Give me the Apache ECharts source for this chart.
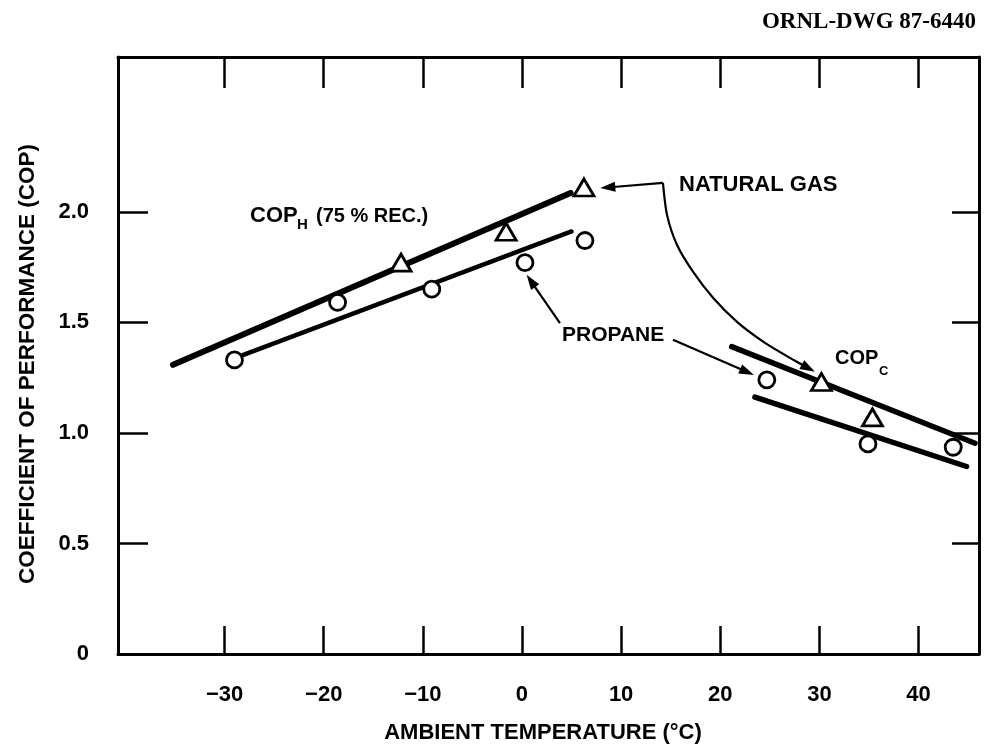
<!DOCTYPE html>
<html>
<head>
<meta charset="utf-8">
<script src="https://cdn.jsdelivr.net/npm/echarts@6/dist/echarts.min.js"></script>
<style>
  html, body { margin: 0; padding: 0; background: #fff; }
  #chart { width: 984px; height: 745px; }
</style>
</head>
<body>
<div id="chart"></div>
<script>
// Axis ticks and labels
const xTickValues = [-30, -20, -10, 0, 10, 20, 30, 40];
const yTickValues = [0.5, 1.0, 1.5, 2.0];
const yLabelValues = [0, 0.5, 1.0, 1.5, 2.0];

// Measured points: ambient temperature (°C) and COP
const gasHeatTemp = [-12.2, -1.6, 6.25];
const gasHeatCop = [1.77, 1.91, 2.11];
const propaneHeatTemp = [-29.0, -18.6, -9.1, 0.3, 6.35];
const propaneHeatCop = [1.33, 1.59, 1.65, 1.77, 1.87];
const gasCoolTemp = [30.2, 35.35];
const gasCoolCop = [1.23, 1.07];
const propaneCoolTemp = [24.7, 34.9, 43.5];
const propaneCoolCop = [1.24, 0.95, 0.935];

// Fitted trend lines: [start, end] as [temp, COP]
const gasHeatFit = [[-35.2, 1.308], [4.9, 2.085]];
const propaneHeatFit = [[-28.1, 1.353], [5.0, 1.911]];
const gasCoolFit = [[21.15, 1.39], [45.7, 0.953]];
const propaneCoolFit = [[23.5, 1.162], [44.85, 0.848]];

// Leader lines for the callouts, arrow at the last point
const leaderGasHeat = [[14.22, 2.131], [7.9, 2.107]];
const leaderGasCool = [[14.22, 2.131], [14.63, 1.986], [15.63, 1.851], [17.25, 1.729],
  [19.27, 1.611], [21.69, 1.502], [24.51, 1.407], [27.54, 1.326], [29.55, 1.276]];
const leaderPropaneHeat = [[3.83, 1.496], [0.47, 1.715]];
const leaderPropaneCool = [[15.23, 1.421], [23.4, 1.262]];
const leaders = [leaderGasHeat, leaderGasCool, leaderPropaneHeat, leaderPropaneCool];

const FONT = '"Liberation Sans", Arial, Helvetica, sans-serif';
const zip = (a, b) => a.map((v, i) => [v, b[i]]);

const chart = echarts.init(document.getElementById('chart'), null, { renderer: 'canvas' });

const axisLineStyle = { color: '#000', width: 3 };
const tickStyle = { color: '#000', width: 2.5 };
const labelStyle = { color: '#000', fontFamily: FONT, fontWeight: 'bold', fontSize: 22 };

function fitLine(data, width, name) {
  return {
    name: name,
    type: 'line',
    data: data,
    showSymbol: false,
    symbol: 'none',
    silent: true,
    z: 2,
    lineStyle: { color: '#000', width: width, cap: 'round' }
  };
}

function markers(data, symbol, size) {
  return {
    type: 'scatter',
    data: data,
    symbol: symbol,
    symbolSize: size,
    silent: true,
    z: 5,
    itemStyle: { color: '#fff', borderColor: '#000', borderWidth: 2.8, opacity: 1 }
  };
}

function renderLeader(params, api) {
  const pts = leaders[api.value(2)].map(p => api.coord(p));
  const n = pts.length;
  const tip = pts[n - 1];
  const prev = pts[n - 2];
  const dx = tip[0] - prev[0], dy = tip[1] - prev[1];
  const len = Math.sqrt(dx * dx + dy * dy) || 1;
  const ux = dx / len, uy = dy / len;
  const headLen = 15, headHalf = 5;
  const bx = tip[0] - ux * headLen, by = tip[1] - uy * headLen;
  const head = [tip, [bx - uy * headHalf, by + ux * headHalf], [bx + uy * headHalf, by - ux * headHalf]];
  const linePts = pts.slice(0, n - 1).concat([[bx + ux * 2, by + uy * 2]]);
  return {
    type: 'group',
    children: [
      { type: 'polyline', shape: { points: linePts, smooth: n > 2 ? 0.25 : 0 },
        style: { stroke: '#000', lineWidth: 2.2, fill: null, lineJoin: 'round' } },
      { type: 'polygon', shape: { points: head }, style: { fill: '#000' } }
    ]
  };
}

const option = {
  animation: false,
  backgroundColor: '#fff',
  grid: { left: 118, right: 5, top: 57, bottom: 91, show: false },
  xAxis: [
    {
      type: 'value', position: 'bottom', min: -40.75, max: 46.1,
      axisLine: { show: true, onZero: false, lineStyle: axisLineStyle },
      axisTick: { show: true, inside: true, length: 28, lineStyle: tickStyle, customValues: xTickValues },
      axisLabel: Object.assign({ margin: 30, customValues: xTickValues,
        formatter: v => (v < 0 ? '\u2212' + Math.abs(v) : String(v)) }, labelStyle),
      splitLine: { show: false }
    },
    {
      type: 'value', position: 'top', min: -40.75, max: 46.1,
      axisLine: { show: true, onZero: false, lineStyle: axisLineStyle },
      axisTick: { show: true, inside: true, length: 31, lineStyle: tickStyle, customValues: xTickValues },
      axisLabel: { show: false },
      splitLine: { show: false }
    }
  ],
  yAxis: [
    {
      type: 'value', position: 'left', min: 0, max: 2.7,
      axisLine: { show: true, onZero: false, lineStyle: axisLineStyle },
      axisTick: { show: true, inside: true, length: 30, lineStyle: tickStyle, customValues: yTickValues },
      axisLabel: Object.assign({ margin: 29, customValues: yLabelValues,
        formatter: v => (v === 0 ? '0' : v.toFixed(1)) }, labelStyle),
      splitLine: { show: false }
    },
    {
      type: 'value', position: 'right', min: 0, max: 2.7,
      axisLine: { show: true, onZero: false, lineStyle: axisLineStyle },
      axisTick: { show: true, inside: true, length: 27, lineStyle: tickStyle, customValues: yTickValues },
      axisLabel: { show: false },
      splitLine: { show: false }
    }
  ],
  series: [
    fitLine(gasHeatFit, 6, 'gasHeat'),
    fitLine(propaneHeatFit, 4.5, 'propaneHeat'),
    fitLine(gasCoolFit, 5.5, 'gasCool'),
    fitLine(propaneCoolFit, 5.5, 'propaneCool'),
    {
      type: 'custom',
      renderItem: renderLeader,
      data: leaders.map((l, i) => [l[0][0], l[0][1], i]),
      silent: true,
      clip: false,
      z: 4
    },
    markers(zip(gasHeatTemp, gasHeatCop), 'triangle', [20, 17]),
    markers(zip(gasCoolTemp, gasCoolCop), 'triangle', [20, 17]),
    markers(zip(propaneHeatTemp, propaneHeatCop), 'circle', 16),
    markers(zip(propaneCoolTemp, propaneCoolCop), 'circle', 16)
  ],
  graphic: [
    { type: 'text', right: 8, top: 11,
      style: { text: 'ORNL-DWG 87-6440', fill: '#000', font: 'bold 23px "Liberation Serif", "Times New Roman", serif' } },
    { type: 'text', x: 28, y: 364, rotation: Math.PI / 2,
      style: { text: 'COEFFICIENT OF PERFORMANCE (COP)', fill: '#000', align: 'center', verticalAlign: 'middle',
        font: 'bold 22.5px ' + FONT } },
    { type: 'text', x: 543, y: 733,
      style: { text: 'AMBIENT TEMPERATURE (\u00B0C)', fill: '#000', align: 'center', verticalAlign: 'middle',
        font: 'bold 22px ' + FONT } },
    { type: 'text', x: 679, y: 185,
      style: { text: 'NATURAL GAS', fill: '#000', align: 'left', verticalAlign: 'middle', font: 'bold 22px ' + FONT } },
    { type: 'text', x: 562, y: 335,
      style: { text: 'PROPANE', fill: '#000', align: 'left', verticalAlign: 'middle', font: 'bold 21px ' + FONT } },
    { type: 'text', x: 250, y: 216,
      style: { text: 'COP', fill: '#000', align: 'left', verticalAlign: 'middle', font: 'bold 22px ' + FONT } },
    { type: 'text', x: 297, y: 225,
      style: { text: 'H', fill: '#000', align: 'left', verticalAlign: 'middle', font: 'bold 15px ' + FONT } },
    { type: 'text', x: 316, y: 216,
      style: { text: '(75 % REC.)', fill: '#000', align: 'left', verticalAlign: 'middle', font: 'bold 20px ' + FONT } },
    { type: 'text', x: 835, y: 358,
      style: { text: 'COP', fill: '#000', align: 'left', verticalAlign: 'middle', font: 'bold 20px ' + FONT } },
    { type: 'text', x: 879, y: 371,
      style: { text: 'C', fill: '#000', align: 'left', verticalAlign: 'middle', font: 'bold 13px ' + FONT } }
  ]
};

chart.setOption(option);
</script>
</body>
</html>
